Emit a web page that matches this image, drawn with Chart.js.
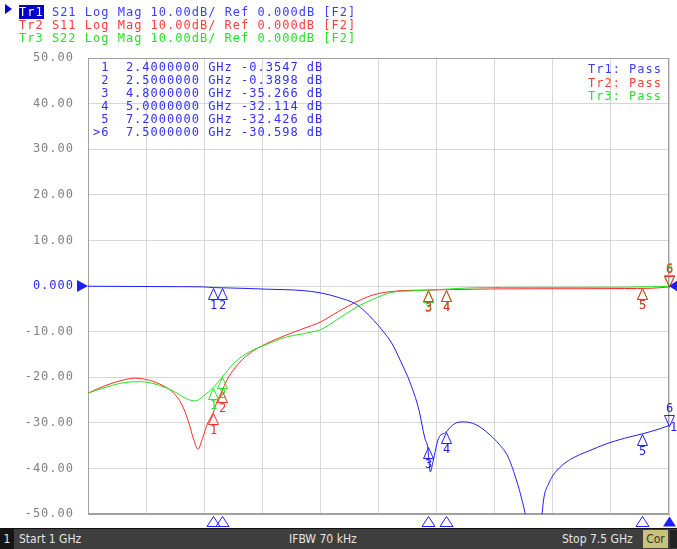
<!DOCTYPE html>
<html>
<head>
<meta charset="utf-8">
<script src="https://cdn.jsdelivr.net/npm/chart.js@4/dist/chart.umd.min.js"></script>
<style>
  body { margin: 0; background: #fff; }
  #wrap { position: relative; width: 677px; height: 549px; overflow: hidden;
          font-family: "DejaVu Sans Mono", monospace; font-size: 12px; letter-spacing: 1px; }
  #chart { position: absolute; left: 0; top: 0; }
  .line { position: absolute; white-space: pre; line-height: 13px; }
  .arrow { position: absolute; left: 5px; top: 4px; width: 0; height: 0;
           border-top: 5px solid transparent; border-bottom: 5px solid transparent; border-left: 7px solid #0000e0; }
  .act { background: #0000c8; color: #fff; }
  #status { position: absolute; left: 0; top: 528px; width: 677px; height: 21px; background: #3e3e3e;
            border-top: 1px solid #111; font-family: "Liberation Sans Narrow", "DejaVu Sans Condensed", sans-serif;
            font-size: 12px; letter-spacing: 0; color: #e4e4e4; }
  #status span { position: absolute; top: 3px; }
</style>
</head>
<body>
<div id="wrap">
  <canvas id="chart" width="677" height="549"></canvas>
  <div class="arrow"></div>
  <div class="line" id="hdr1" style="left:19px; top:6px; color:#3c3cff"></div>
  <div class="line" id="hdr2" style="left:19px; top:19px; color:#ff3c3c"></div>
  <div class="line" id="hdr3" style="left:19px; top:32px; color:#28e028"></div>
  <div class="line" id="mkTable" style="left:93px; top:61px; color:#3030ff"></div>
  <div class="line" id="passBox" style="right:15px; top:63px; text-align:right; line-height:13.5px"></div>
  <div id="status">
    <span style="left:0; top:0; width:14px; height:21px; background:#151515; text-align:center; line-height:21px">1</span>
    <span style="left:19px">Start 1 GHz</span>
    <span style="left:289px">IFBW 70 kHz</span>
    <span style="left:562px">Stop 7.5 GHz</span>
    <span style="left:643px; top:1px; width:25px; height:18px; background:#c9c27a; color:#333; text-align:center; line-height:18px">Cor</span>
    <span style="left:670px; top:1px; width:7px; height:18px; background:#222"></span>
  </div>
</div>
<script>
// Sweep settings
const startGHz = 1;
const stopGHz = 7.5;
const refTop = 50;
const refBottom = -50;
const dbPerDiv = 10;

// Traces (GHz, dB)
const s21Freq = [1.0, 1.5, 2.0, 2.3, 2.4, 2.5, 2.8, 3.0, 3.2, 3.4, 3.6, 3.8, 4.0, 4.1, 4.2, 4.3, 4.4, 4.5, 4.6, 4.7, 4.77, 4.8, 4.83, 4.86, 4.92, 5.0, 5.1, 5.2, 5.3, 5.4, 5.5, 5.6, 5.7, 5.8, 5.85, 5.9, 5.95, 6.0, 6.05, 6.1, 6.15, 6.2, 6.3, 6.4, 6.5, 6.6, 6.8, 7.0, 7.2, 7.4, 7.5];
const s21Db = [-0.05, -0.1, -0.15, -0.2, -0.35, -0.39, -0.55, -0.7, -0.8, -1.0, -1.5, -2.5, -4.0, -5.6, -7.6, -9.9, -12.6, -16.6, -21.0, -27.0, -33.5, -35.27, -40.8, -38.5, -33.5, -32.11, -30.2, -29.8, -30.1, -31.1, -32.7, -34.7, -37.5, -43.0, -46.5, -51.0, -58.0, -62.0, -56.0, -46.5, -43.5, -41.6, -39.4, -38.0, -37.0, -36.2, -34.6, -33.4, -32.43, -31.3, -30.6];

const s11Freq = [1.0, 1.2, 1.4, 1.53, 1.65, 1.8, 1.95, 2.05, 2.12, 2.18, 2.23, 2.28, 2.33, 2.4, 2.45, 2.5, 2.55, 2.65, 2.8, 3.0, 3.2, 3.4, 3.6, 3.8, 4.0, 4.2, 4.4, 4.6, 4.8, 5.0, 5.5, 6.0, 6.5, 7.0, 7.3, 7.5];
const s11Db = [-23.5, -21.8, -20.6, -20.2, -20.5, -21.5, -23.3, -26.0, -29.5, -33.5, -35.8, -33.5, -30.5, -27.8, -25.0, -23.0, -20.8, -17.8, -14.9, -12.6, -10.9, -9.4, -7.9, -5.6, -3.5, -1.9, -1.2, -0.95, -0.9, -0.8, -0.65, -0.6, -0.6, -0.55, -0.5, -0.2];

const s22Freq = [1.0, 1.2, 1.4, 1.6, 1.8, 1.95, 2.1, 2.2, 2.3, 2.4, 2.5, 2.65, 2.8, 3.0, 3.2, 3.4, 3.5, 3.6, 3.8, 4.0, 4.2, 4.4, 4.6, 4.8, 5.0, 5.3, 6.0, 6.5, 7.0, 7.5];
const s22Db = [-23.5, -22.2, -21.2, -21.0, -21.8, -23.0, -24.7, -25.2, -24.0, -22.3, -20.0, -16.6, -14.5, -12.8, -11.3, -10.5, -10.1, -9.6, -7.2, -4.7, -2.8, -1.4, -1.1, -0.9, -0.7, -0.4, -0.3, -0.3, -0.25, -0.1];

// Markers (Tr1 values from the marker table, others)
const markerFreq = [2.4, 2.5, 4.8, 5.0, 7.2, 7.5];
const s21Marker = [-0.3547, -0.3898, -35.266, -32.114, -32.426, -30.598];
const s11Marker = [-27.8, -23.0, -0.9, -0.8, -0.5, -0.2];
const s22Marker = [-22.3, -20.0, -1.1, -0.8, -0.4, -0.1];
const activeMarker = 5;

const blue = '#1e1eff';
const red = '#ff2a2a';
const green = '#22e622';

const traces = [
    { name: 'Tr1', param: 'S21', freq: s21Freq, db: s21Db, marks: s21Marker, color: blue, text: '#3c3cff' },
    { name: 'Tr2', param: 'S11', freq: s11Freq, db: s11Db, marks: s11Marker, color: red, text: '#ff3c3c' },
    { name: 'Tr3', param: 'S22', freq: s22Freq, db: s22Db, marks: s22Marker, color: green, text: '#28e028' }
];

// Header lines
traces.forEach((t, i) => {
    const el = document.getElementById('hdr' + (i + 1));
    const rest = ' ' + t.param + ' Log Mag ' + dbPerDiv.toFixed(2) + 'dB/ Ref 0.000dB [F2]';
    if (i === 0) {
        el.innerHTML = '<span class="act">' + t.name + '</span>' + rest;
    } else {
        el.textContent = t.name + rest;
    }
});

// Marker table for the active trace
function fmtDb(v) {
    return Math.abs(v) >= 10 ? v.toFixed(3) : v.toFixed(4);
}
document.getElementById('mkTable').textContent = markerFreq.map((f, i) =>
    (i === activeMarker ? '>' : ' ') + (i + 1) + '  ' + f.toFixed(7) + ' GHz ' + fmtDb(s21Marker[i]) + ' dB'
).join('\n');

// Limit test results
document.getElementById('passBox').innerHTML = traces.map(t =>
    '<span style="color:' + t.text + '">' + t.name + ': Pass</span>').join('<br>');

function triangle(ctx, x, y, dir, w, h, fill) {
    // tip at (x, y); dir = 1 points up, -1 points down
    ctx.beginPath();
    ctx.moveTo(x, y);
    ctx.lineTo(x - w / 2, y + dir * h);
    ctx.lineTo(x + w / 2, y + dir * h);
    ctx.closePath();
    if (fill) ctx.fill(); else ctx.stroke();
}

const screenPlugin = {
    id: 'vnaScreen',
    beforeDraw(chart) {
        chart.ctx.letterSpacing = '1px';
    },
    beforeDatasetsDraw(chart) {
        const { ctx, chartArea: a } = chart;
        ctx.save();
        ctx.strokeStyle = '#a0a0a0';
        ctx.lineWidth = 1;
        ctx.strokeRect(a.left + 0.5, a.top + 0.5, a.right - a.left - 1, a.bottom - a.top - 1);
        ctx.restore();
    },
    afterDatasetsDraw(chart) {
        const { ctx, chartArea: a, scales: { x, y } } = chart;
        ctx.save();
        ctx.lineWidth = 1;
        ctx.font = '12px "DejaVu Sans Mono"';
        ctx.letterSpacing = '0px';
        ctx.textAlign = 'center';

        // markers on the traces, Tr1 drawn last
        [traces[2], traces[1], traces[0]].forEach(t => {
            ctx.strokeStyle = t.color;
            ctx.fillStyle = t.color;
            markerFreq.forEach((f, i) => {
                const px = Math.round(x.getPixelForValue(f)) + 0.5;
                const py = Math.round(y.getPixelForValue(t.marks[i])) + 0.5;
                if (i === activeMarker) {
                    triangle(ctx, px, py, -1, 10, 11, false);
                    ctx.textBaseline = 'bottom';
                    ctx.fillText(String(i + 1), px, py - 12);
                } else {
                    triangle(ctx, px, py, 1, 10, 11, false);
                    ctx.textBaseline = 'top';
                    ctx.fillText(String(i + 1), px, py + 11);
                }
            });
        });

        // trace end tag for Tr1
        ctx.fillStyle = blue;
        ctx.textAlign = 'left';
        ctx.textBaseline = 'middle';
        ctx.fillText('1', a.right + 1, y.getPixelForValue(s21Db[s21Db.length - 1]) + 2);

        // marker positions under the grid
        ctx.strokeStyle = blue;
        ctx.fillStyle = blue;
        markerFreq.forEach((f, i) => {
            const px = Math.round(x.getPixelForValue(f)) + 0.5;
            triangle(ctx, px, a.bottom + 2.5, 1, 13, 10, i === activeMarker);
        });

        // reference level arrows
        const ry = y.getPixelForValue(0);
        ctx.beginPath();
        ctx.moveTo(a.left, ry);
        ctx.lineTo(a.left - 11, ry - 6);
        ctx.lineTo(a.left - 11, ry + 6);
        ctx.closePath();
        ctx.fill();
        ctx.beginPath();
        ctx.moveTo(a.right, ry);
        ctx.lineTo(a.right + 9, ry - 6);
        ctx.lineTo(a.right + 9, ry + 6);
        ctx.closePath();
        ctx.fill();
        ctx.restore();
    }
};

new Chart(document.getElementById('chart').getContext('2d'), {
    type: 'line',
    data: {
        datasets: traces.slice().reverse().map(t => ({
            label: t.name,
            data: t.freq.map((f, i) => ({ x: f, y: t.db[i] })),
            borderColor: t.color,
            borderWidth: 1,
            pointRadius: 0,
            cubicInterpolationMode: 'monotone',
            fill: false
        }))
    },
    options: {
        responsive: false,
        animation: false,
        events: [],
        layout: { padding: { left: 0, right: 8, top: 58, bottom: 35 } },
        plugins: { legend: { display: false }, tooltip: { enabled: false } },
        scales: {
            x: {
                type: 'linear',
                min: startGHz,
                max: stopGHz,
                ticks: { display: false, count: 11 },
                grid: { color: '#d6d6d6', drawTicks: false },
                border: { color: '#a0a0a0' },
                afterFit: s => { s.height = 0; }
            },
            y: {
                min: refBottom,
                max: refTop,
                ticks: {
                    stepSize: dbPerDiv,
                    padding: 14,
                    font: { family: 'DejaVu Sans Mono', size: 12 },
                    color: c => c.tick.value === 0 ? '#2a2aff' : '#808080',
                    callback: v => v === 0 ? '0.000' : v.toFixed(2)
                },
                grid: { color: '#d6d6d6', drawTicks: false },
                border: { color: '#a0a0a0' },
                afterFit: s => { s.width = 88; }
            }
        }
    },
    plugins: [screenPlugin]
});
</script>
</body>
</html>
